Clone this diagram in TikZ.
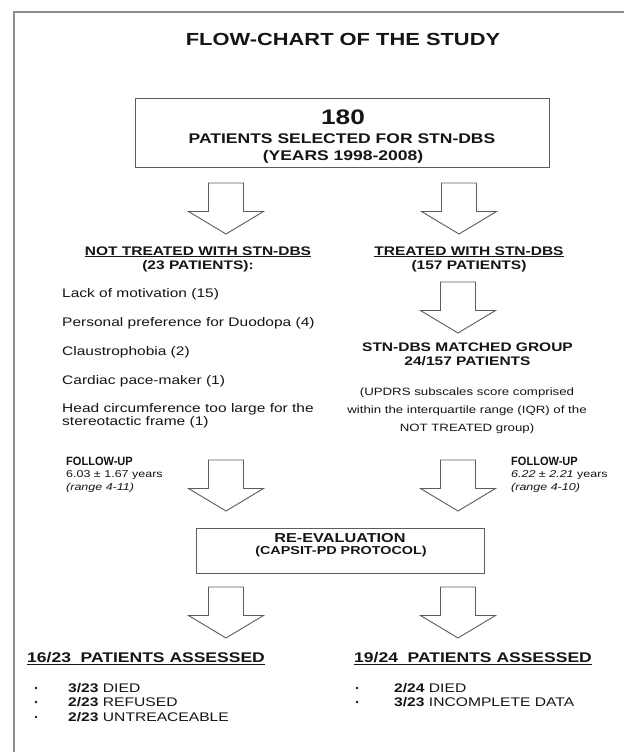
\documentclass[tikz,border=0pt]{standalone}
\usepackage{fontspec}
\setmainfont{Liberation Sans}[FakeStretch=1.25]
\newfontfamily\narrowfont{Liberation Sans}[FakeStretch=0.92]
\usetikzlibrary{positioning}
\definecolor{framegray}{HTML}{8E8E8E}
\definecolor{linegray}{HTML}{5C5C5C}
\definecolor{ink}{HTML}{151515}

\tikzset{
  blockarrow/.pic={
    \draw[arrowline] (-17.5,0) -- (17.5,0) -- (17.5,28.5) -- (37.5,28.5) -- (0,51)
      -- (-37.5,28.5) -- (-17.5,28.5) -- cycle;
  }
}

\begin{document}
\begin{tikzpicture}[x=1pt, y=-1pt,
    every node/.style={inner sep=0pt, text=ink},
    boxline/.style={draw=linegray, line width=1pt},
    arrowline/.style={draw=linegray, line width=0.9pt, line join=miter},
    title/.style={font=\bfseries\fontsize{17.5}{20}\selectfont},
    bighead/.style={font=\bfseries\fontsize{14}{18}\selectfont, align=center},
    head/.style={font=\bfseries\fontsize{12.4}{14}\selectfont, align=center},
    item/.style={font=\fontsize{12.4}{13}\selectfont, align=left},
    note/.style={font=\fontsize{10.6}{18}\selectfont, align=center},
    fuhead/.style={font=\narrowfont\bfseries\fontsize{12}{13}\selectfont},
    stat/.style={font=\fontsize{10}{12}\selectfont},
    bullet/.style={font=\fontsize{12.5}{14}\selectfont},
    dot/.style={circle, fill=ink, minimum size=2.6pt}]
  \useasboundingbox (0,0) rectangle (624,752);
  \fill[white] (0,0) rectangle (624,752);
  \draw[framegray, line width=1.4pt] (14,752) -- (14,12) -- (624,12);

  \node[title] (ttl) at (343,39) {FLOW-CHART OF THE STUDY};

  \node[boxline, minimum width=414pt, minimum height=69pt] (sel) at (342,132.5) {};
  \node[font=\bfseries\fontsize{21}{24}\selectfont] (n180) at (343,117) {180};
  \node[bighead] (selA) at (342,139) {PATIENTS SELECTED FOR STN-DBS};
  \node[bighead] (selB) at (343,157) {(YEARS 1998-2008)};

  \pic at (226,183) {blockarrow};
  \pic at (459,183) {blockarrow};

  \node[head] (nt) at (198,259) {\underline{NOT TREATED WITH STN-DBS}\\(23 PATIENTS):};
  \node[head] (tr) at (469,259) {\underline{TREATED WITH STN-DBS}\\(157 PATIENTS)};

  \node[item, anchor=west] (why1) at (62,294) {Lack of motivation (15)};
  \node[item, anchor=west] (why2) at (62,323) {Personal preference for Duodopa (4)};
  \node[item, anchor=west] (why3) at (62,352) {Claustrophobia (2)};
  \node[item, anchor=west] (why4) at (62,381) {Cardiac pace-maker (1)};
  \node[item, anchor=west] (why5) at (62,415.5) {Head circumference too large for the\\stereotactic frame (1)};

  \pic at (458,282) {blockarrow};

  \node[head] (match) at (467.5,354) {STN-DBS MATCHED GROUP\\24/157 PATIENTS};
  \node[note] (iqr) at (467,411) {(UPDRS subscales score comprised\\within the interquartile range (IQR) of the\\NOT TREATED group)};

  \node[fuhead, anchor=west] (fuL) at (66,461) {FOLLOW-UP};
  \node[stat, anchor=west] (fuL2) at (66,475) {6.03 ± 1.67 years};
  \node[stat, anchor=west] (fuL3) at (66,488) {\itshape (range 4-11)};
  \node[fuhead, anchor=west] (fuR) at (511,461) {FOLLOW-UP};
  \node[stat, anchor=west] (fuR2) at (511,475) {\textit{6.22 ± 2.21} years};
  \node[stat, anchor=west] (fuR3) at (511,488) {\itshape (range 4-10)};

  \pic at (226,460) {blockarrow};
  \pic at (458,460) {blockarrow};

  \node[boxline, minimum width=288pt, minimum height=45pt] (reeval) at (340,550.5) {};
  \node[font=\bfseries\fontsize{13}{15}\selectfont] (reA) at (340,538) {RE-EVALUATION};
  \node[font=\bfseries\fontsize{11.5}{14}\selectfont] (reB) at (341,552) {(CAPSIT-PD PROTOCOL)};

  \pic at (226,587) {blockarrow};
  \pic at (458,587) {blockarrow};

  \node[bighead, anchor=west] (asL) at (27,659) {\underline{16/23\ \ PATIENTS ASSESSED}};
  \node[bighead, anchor=west] (asR) at (354,659) {\underline{19/24\ \ PATIENTS ASSESSED}};

  \node[dot] (dL1) at (36,688) {};
  \node[dot] (dL2) at (36,702) {};
  \node[dot] (dL3) at (36,717) {};
  \node[bullet, anchor=west] (lostL1) at (68,688) {\textbf{3/23} DIED};
  \node[bullet, anchor=west] (lostL2) at (68,702) {\textbf{2/23} REFUSED};
  \node[bullet, anchor=west] (lostL3) at (68,717) {\textbf{2/23} UNTREACEABLE};
  \node[dot] (dR1) at (357,688) {};
  \node[dot] (dR2) at (357,702) {};
  \node[bullet, anchor=west] (lostR1) at (394,688) {\textbf{2/24} DIED};
  \node[bullet, anchor=west] (lostR2) at (394,702) {\textbf{3/23} INCOMPLETE DATA};
\end{tikzpicture}
\end{document}
